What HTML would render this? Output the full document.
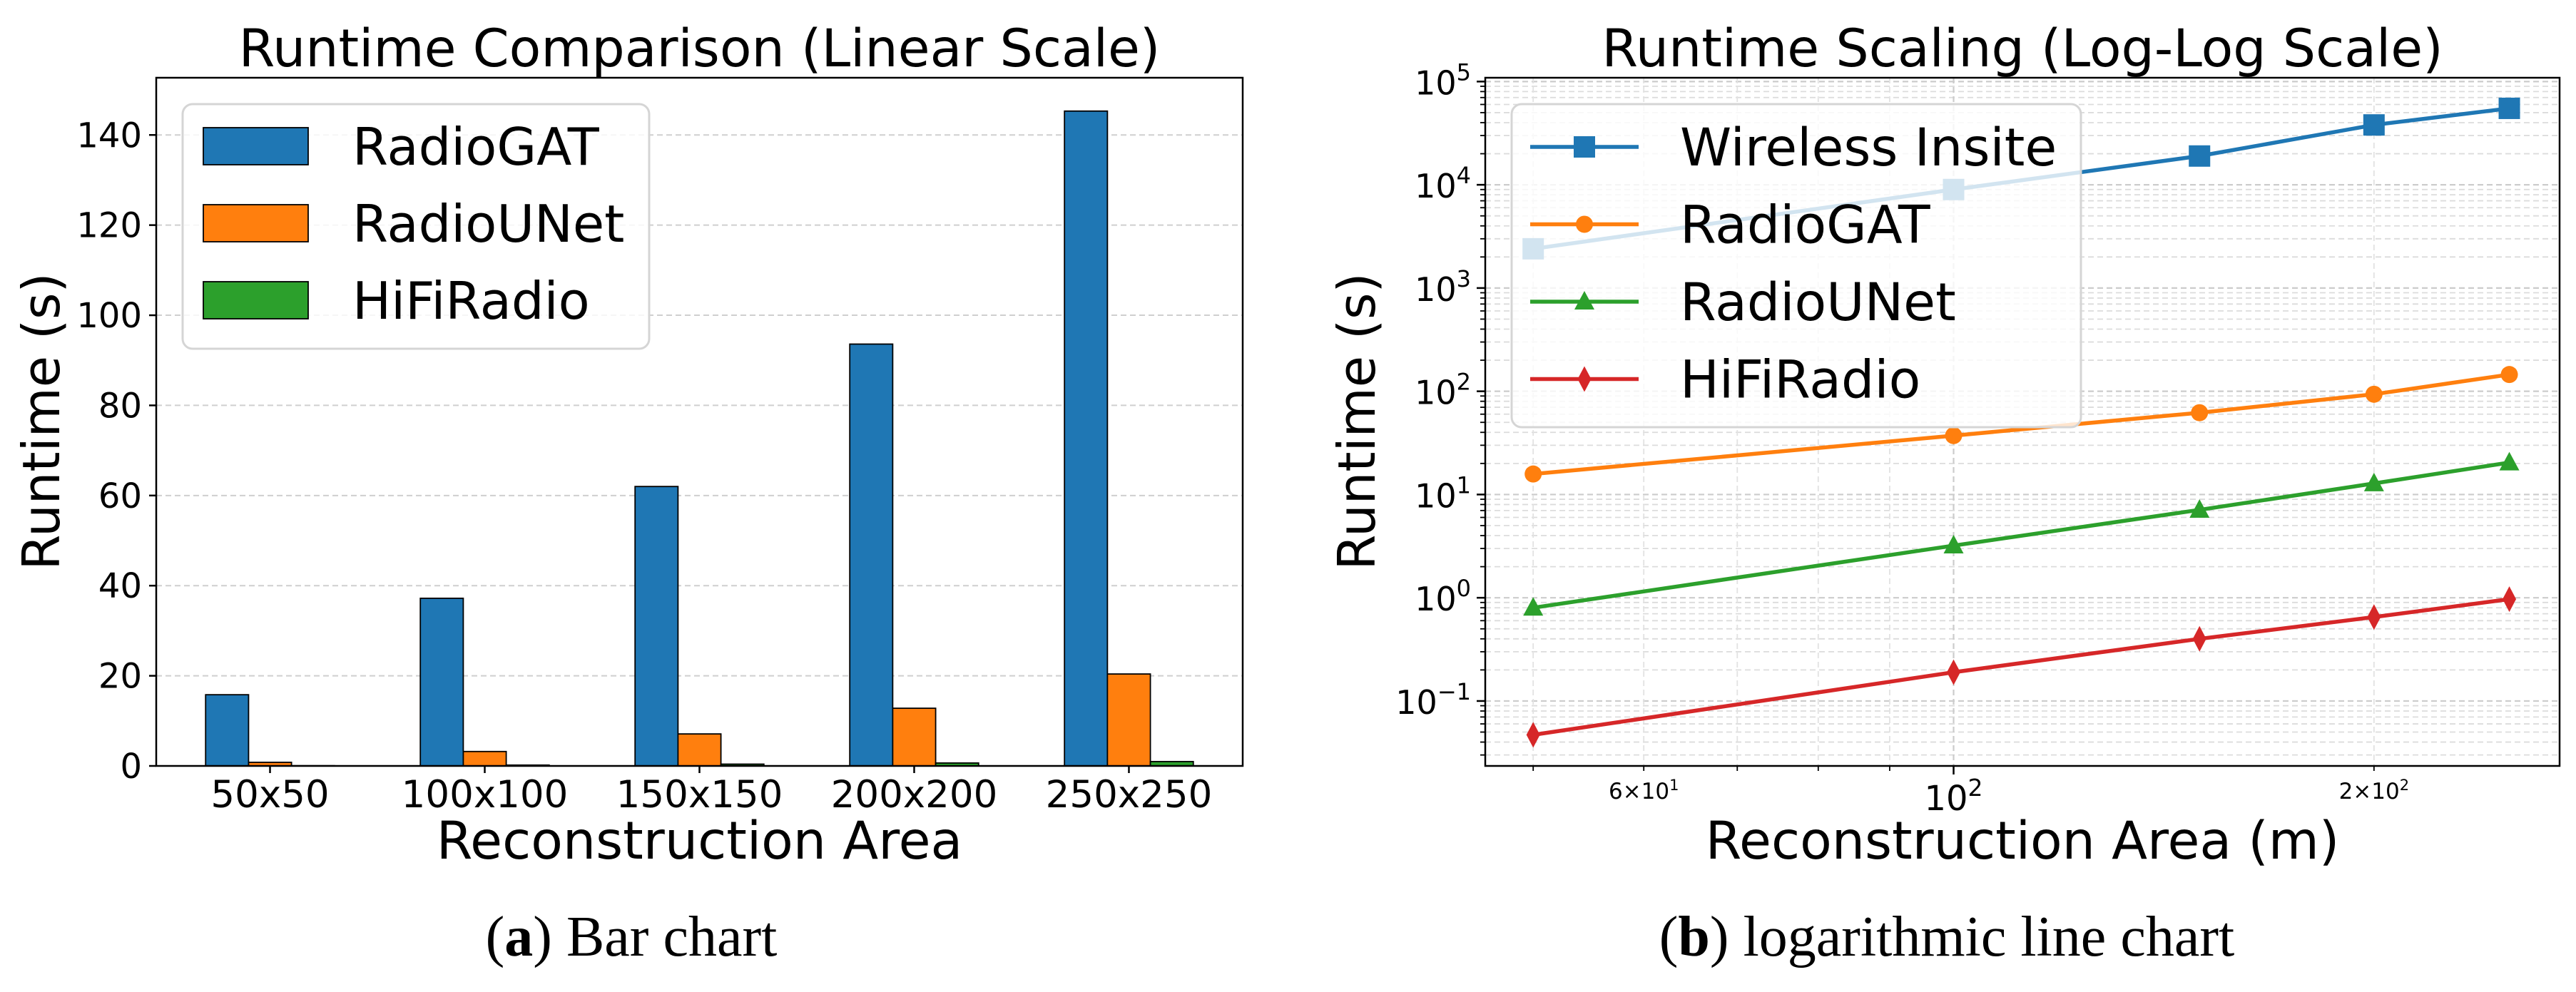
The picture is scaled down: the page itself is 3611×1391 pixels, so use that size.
<!DOCTYPE html>
<html><head><meta charset="utf-8"><style>
html,body{margin:0;padding:0;background:#fff;}
svg{display:block;font-family:"DejaVu Sans","Liberation Sans",sans-serif;}
</style></head><body>
<svg id="fig" width="3611" height="1391" viewBox="0 0 3611 1391" xmlns="http://www.w3.org/2000/svg">
<rect width="3611" height="1391" fill="#fff"/>
<g id="left"></g>
<g id="right"></g>
<text x="885" y="1340" font-family="Liberation Serif, serif" font-size="80" text-anchor="middle">(<tspan font-weight="bold">a</tspan>) Bar chart</text>
<text x="2729" y="1340" font-family="Liberation Serif, serif" font-size="80" text-anchor="middle">(<tspan font-weight="bold">b</tspan>) logarithmic line chart</text>
</svg>
<script>
const categories = ['50x50','100x100','150x150','200x200','250x250'];
const radioGATVals = [15.8, 37.2, 62.0, 93.6, 145.3];
const radioUNetVals = [0.8, 3.2, 7.1, 12.8, 20.4];
const hifiVals = [0.047, 0.19, 0.40, 0.65, 0.97];
const linTicks = [0,20,40,60,80,100,120,140];
const areaX = [50,100,150,200,250];
const wirelessVals = [2400, 9000, 19000, 38000, 55000];
const logYTicks = [-1,0,1,2,3,4,5];

const NS='http://www.w3.org/2000/svg';
function mk(parent,tag,attrs,txt){const e=document.createElementNS(NS,tag);for(const k in attrs)e.setAttribute(k,attrs[k]);if(txt!==undefined)e.textContent=txt;parent.appendChild(e);return e;}
const C=['#1f77b4','#ff7f0e','#2ca02c','#d62728'];

// ---------- LEFT ----------
const L=document.getElementById('left');
const lx0=219,lx1=1742,ly0=109,ly1=1074;
const xmin=-0.53,xmax=4.53,ymaxL=152.7;
const xL=v=>lx0+(v-xmin)/(xmax-xmin)*(lx1-lx0);
const yL=v=>ly1-v/ymaxL*(ly1-ly0);
linTicks.forEach(t=>{
  const g=mk(L,'line',{x1:lx0,x2:lx1,y1:yL(t),y2:yL(t),stroke:'#cfcfcf','stroke-width':2,'stroke-dasharray':'8,5'});
  
  const tk=mk(L,'line',{x1:lx0-10,x2:lx0,y1:yL(t),y2:yL(t),stroke:'#000','stroke-width':2.5});
  
  const tl=mk(L,'text',{x:lx0-20,y:yL(t)+17,'font-size':48,'text-anchor':'end'},String(t));
  
});
const bw=0.2;
[radioGATVals,radioUNetVals,hifiVals].forEach((arr,s)=>{
  arr.forEach((v,i)=>{
    const cx=i+(s-1)*bw;
    const r=mk(L,'rect',{x:xL(cx-bw/2),y:yL(v),width:xL(cx+bw/2)-xL(cx-bw/2),height:yL(0)-yL(v),fill:C[s],stroke:'#000','stroke-width':1.8});
    
    
  });
});
categories.forEach((c,i)=>{
  const tk=mk(L,'line',{x1:xL(i),x2:xL(i),y1:ly1,y2:ly1+10,stroke:'#000','stroke-width':2.5});
  
  const tl=mk(L,'text',{x:xL(i),y:ly1+58,'font-size':53,'text-anchor':'middle'},c);
  
});
// legend
const lg=mk(L,'g',{});

mk(lg,'rect',{x:256,y:146,width:654,height:343,rx:14,fill:'#fff','fill-opacity':0.8,stroke:'#d5d5d5','stroke-width':3});
['RadioGAT','RadioUNet','HiFiRadio'].forEach((n,s)=>{
  const cy=205+s*108;
  const p=mk(lg,'rect',{x:285,y:cy-26,width:147,height:52,fill:C[s],stroke:'#000','stroke-width':1.8});
  
  const t=mk(lg,'text',{x:494,y:cy+26,'font-size':72},n);
  
});
mk(L,'rect',{x:lx0,y:ly0,width:lx1-lx0,height:ly1-ly0,fill:'none',stroke:'#000','stroke-width':2.5});
let t1=mk(L,'text',{x:(lx0+lx1)/2,y:93,'font-size':73,'text-anchor':'middle'},'Runtime Comparison (Linear Scale)');

let t2=mk(L,'text',{x:(lx0+lx1)/2,y:1204,'font-size':73,'text-anchor':'middle'},'Reconstruction Area');

let t3=mk(L,'text',{x:0,y:0,'font-size':72,'text-anchor':'middle',transform:'translate(83,591) rotate(-90)'},'Runtime (s)');


// ---------- RIGHT ----------
const R=document.getElementById('right');
const rx0=2082,rx1=3588,ry0=109,ry1=1074;
const lxa=Math.log10(46.2),lxb=Math.log10(271.6),lya=Math.log10(0.0235),lyb=5.037;
const xR=v=>rx0+(Math.log10(v)-lxa)/(lxb-lxa)*(rx1-rx0);
const yR=v=>ry1-(Math.log10(v)-lya)/(lyb-lya)*(ry1-ry0);
for(let d=-2;d<=5;d++){for(let m=1;m<=9;m++){const v=m*Math.pow(10,d);if(v<0.0235||v>Math.pow(10,lyb))continue;
  const y=yR(v);
  const g=mk(R,'line',{x1:rx0,x2:rx1,y1:y,y2:y,stroke:m===1?'#cccccc':'#dcdcdc','stroke-width':m===1?2.2:1.8,'stroke-dasharray':'8,5'});
  
  const tk=mk(R,'line',{x1:rx0-(m===1?12:7),x2:rx0,y1:y,y2:y,stroke:'#000','stroke-width':m===1?2.5:1.8});
  
}}
[50,60,70,80,90,100,200].forEach(v=>{
  const x=xR(v);
  const g=mk(R,'line',{x1:x,x2:x,y1:ry0,y2:ry1,stroke:v===100?'#cccccc':'#e2e2e2','stroke-width':v===100?2.2:1.8,'stroke-dasharray':'8,5'});
  
  const tk=mk(R,'line',{x1:x,x2:x,y1:ry1,y2:ry1+(v===100?12:7),stroke:'#000','stroke-width':v===100?2.5:1.8});
  
});
logYTicks.forEach(e=>{
  const y=yR(Math.pow(10,e));
  const t=mk(R,'text',{x:rx0-20,y:y+18,'font-size':46,'text-anchor':'end'});
  
  mk(t,'tspan',{},'10');mk(t,'tspan',{'font-size':32,dy:-20},e<0?'\u2212'+(-e):String(e));
});
{const t=mk(R,'text',{x:xR(100),y:ry1+62,'font-size':48,'text-anchor':'middle'});
 
 mk(t,'tspan',{},'10');mk(t,'tspan',{'font-size':33,dy:-20},'2');}
[[60,'6\u00d710','1'],[200,'2\u00d710','2']].forEach(a=>{
  const t=mk(R,'text',{x:xR(a[0]),y:ry1+46,'font-size':31,'text-anchor':'middle'});
  
  mk(t,'tspan',{},a[1]);mk(t,'tspan',{'font-size':21,dy:-12},a[2]);
});
const series=[wirelessVals,radioGATVals,radioUNetVals,hifiVals];
const names=['Wireless Insite','RadioGAT','RadioUNet','HiFiRadio'];
function marker(p,k,x,y){
  let m;
  if(k===0)m=mk(p,'rect',{x:x-15,y:y-15,width:30,height:30,fill:C[0]});
  else if(k===1)m=mk(p,'circle',{cx:x,cy:y,r:12,fill:C[1]});
  else if(k===2)m=mk(p,'polygon',{points:`${x},${y-15} ${x+14},${y+11} ${x-14},${y+11}`,fill:C[2]});
  else m=mk(p,'polygon',{points:`${x},${y-18} ${x+9.5},${y} ${x},${y+18} ${x-9.5},${y}`,fill:C[3]});
  return m;
}
series.forEach((arr,k)=>{
  const pts=arr.map((v,i)=>xR(areaX[i])+','+yR(v)).join(' ');
  const pl=mk(R,'polyline',{points:pts,fill:'none',stroke:C[k],'stroke-width':5.5});
  
  
  arr.forEach((v,i)=>{
    const m=marker(R,k,xR(areaX[i]),yR(v));
    
    
  });
});
const lg2=mk(R,'g',{});

mk(lg2,'rect',{x:2119,y:146,width:798,height:453,rx:14,fill:'#fff','fill-opacity':0.8,stroke:'#d5d5d5','stroke-width':3});
names.forEach((n,k)=>{
  const cy=206+k*108.5;
  mk(lg2,'line',{x1:2145,x2:2297,y1:cy,y2:cy,stroke:C[k],'stroke-width':5.5});
  marker(lg2,k,2221,cy);
  const t=mk(lg2,'text',{x:2355,y:cy+26,'font-size':73},n);
  
});
mk(R,'rect',{x:rx0,y:ry0,width:rx1-rx0,height:ry1-ry0,fill:'none',stroke:'#000','stroke-width':2.5});
let r1=mk(R,'text',{x:(rx0+rx1)/2,y:93,'font-size':73,'text-anchor':'middle'},'Runtime Scaling (Log-Log Scale)');

let r2=mk(R,'text',{x:(rx0+rx1)/2,y:1204,'font-size':73,'text-anchor':'middle'},'Reconstruction Area (m)');

let r3=mk(R,'text',{x:0,y:0,'font-size':72,'text-anchor':'middle',transform:'translate(1927,591) rotate(-90)'},'Runtime (s)');

</script>
</body></html>
